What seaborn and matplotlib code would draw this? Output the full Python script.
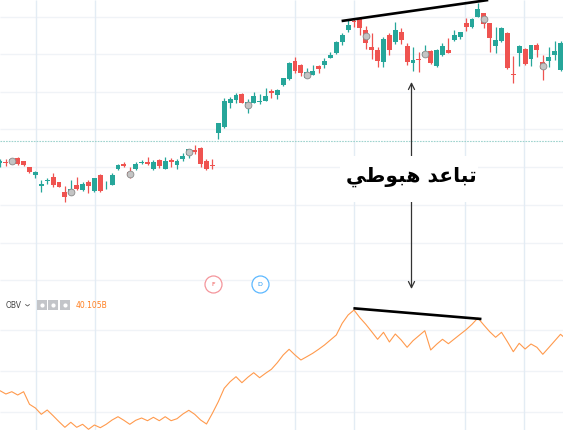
# Imports
import numpy as np
import pandas as pd
import seaborn as sns
import matplotlib.pyplot as plt
from matplotlib.patches import Rectangle

# Candles (values are pixel rows, so smaller = higher price).
candle_up = [1,0,1,0,0,0,1,1,1,0,0,0,1,0,1,0,1,0,1,1,
             1,0,0,1,1,0,1,0,1,0,1,1,1,0,0,0,0,1,1,1,
             1,0,1,1,1,1,0,1,1,1,0,0,1,1,0,1,1,1,1,1,
             0,0,0,0,0,1,0,1,0,0,1,0,1,0,1,1,0,1,1,0,
             1,1,0,0,1,1,0,0,1,0,1,0,0,1,1,1]
body_top = [161,162,159.3,158,161.3,166.7,171.7,183.7,180,177.3,182,191.7,189.3,185,184.3,181.7,178,175,183.7,174.7,
            165,164,172,163.7,162,161.7,161.7,160.3,160.7,160.3,160.7,156,149.3,149.7,148.3,160.7,165.3,123.3,101.3,99.3,
            95,93.7,102.3,96,100.7,96,91,90.3,78.3,63,61,65.3,72.3,71,66,61,54.7,41.7,34.7,25,
            21.3,18.3,30,47.3,50,39.3,35,30,32,45.7,60,59.3,51.7,51.3,50.3,45.7,50,35.3,32,23.3,
            19,9,13.3,23,39.7,28,33,74,45.7,49,45.3,45,62.3,57,51.3,43.3]
body_bot = [163.3,162.7,162.7,164.3,164.7,172,175.3,186,181.3,184.7,186.7,197,194,189.3,190,186,191,191,184.3,184.7,
            169.3,166,176.3,169.3,163.3,164,169,166,168.7,161.7,165,158.7,155.3,151.7,164,168.7,166,132.7,127.3,103.3,
            100,102.7,107.3,102.7,102,100.7,93,95,85.3,79.3,71.3,72.7,77.7,74.7,69,65.3,57.7,53.3,42,30.3,
            22,28,42.7,50,60.7,62.3,50,42,40,62.3,62.7,60.3,56,63.3,66,55,53,40,37,26.7,
            27,17,24,38,46.3,40.7,68,75.3,52.7,64,58.7,50,69.3,61.3,54.7,70]
wick_top = [159.3,159,159.3,156.7,161.3,166.7,171,180,177.7,172.7,182,185.7,179.7,177,181.7,180,178,174,180.7,173.3,
            164.3,162,166.7,162,159.7,157.3,160,159.3,157.3,157.7,159.3,152.7,149.3,144.7,147.3,159,159,122.7,98.3,96.7,
            93.3,92.7,99.3,91.7,94.3,87.7,89,89.3,77.7,62.3,57.3,64,67.7,65,65.3,58.3,52.3,41,32.7,20,
            19.3,16.7,26,33.3,47.3,37.3,33.3,22,27.7,43.3,46.7,51.7,45,50,49.3,43.3,38,30,32,18.3,
            18.3,2.7,12.7,22.7,26.7,26.7,32.3,56,45,48.3,44.7,42.7,55,46.7,40.7,40.7]
wick_bot = [167.3,166,163,165,166,172.7,178,191.7,183.7,186.7,187,201.7,195,190,190.7,192.7,191.7,192,188.7,185.3,
            170,167.3,177.7,170,164,164.7,170,167.7,169,166.7,169,160.7,158.3,154,166.7,170,169.3,139.3,128,108.3,
            103.3,103.3,112.7,103.3,104,101.3,97.7,98.7,86,80,72.7,76,78,75.3,73.3,67.7,58.3,54.3,45,31.7,
            27.3,35,49.3,58.7,67.3,66.7,55,44,44,65,70.7,71.7,56.7,64,66.7,55.7,53.3,40.7,38.7,30.7,
            28,17.3,28.3,52,53.3,41.7,68.7,83.3,66,64.7,66,56.7,80,66.7,60,71]

# On balance volume line, same rows.
obv_row = [390.7,394,391.7,395,391.7,404.3,408,414.3,410,415.7,421.7,427.3,422.3,427.3,424.3,429.3,425,427.7,424.3,420,
           416.7,420.3,424.3,420.3,418,420.7,417.3,420.7,416.7,420.7,418.7,414,410.3,414.3,420,424,413.3,401.7,388.3,381.7,
           376.7,382.7,377.3,372.7,377.7,373.3,369.3,362.7,355,349.3,355,360,356.7,353.3,349.3,345,340,335,323.3,315,
           310,317.7,324.3,331.7,339.3,332.3,342,334,340,347.3,340.7,335.7,330.7,350,344.3,339.3,343.7,339,334.3,329.7,
           324.3,318,325,331.7,337.3,332.3,341.7,351.7,343.3,349,344,347.3,354.3,347.7,341,334.3,339.3]

# Every tenth candle carries a grey marker.
marked = [2,12,22,32,42,52,62,72,82,92]

# Trend lines (candle index, row).
price_trend_x = [57.9, 82.75]
price_trend_y = [21, 0]
obv_trend_x = [59.9, 81.6]
obv_trend_y = [308.3, 319]

# Grid.
grid_cols = [36, 95, 295, 354.3, 465, 524.3]
grid_rows = [16.7, 54.3, 91.7, 129.3, 167.3, 205, 242.7, 280, 329.5, 371, 411.7]
dotted_row = 141

label_text = "\ufef2\ufec3\ufeee\ufe92\ufeeb \ufeaa\ufecb\ufe8e\ufe92\ufe97"  # shaped, left to right
obv_name = "OBV"
obv_value = "40.105B"

GREEN = '#26a69a'
RED = '#ef5350'
ORANGE = '#ff9a4d'
STEP = 5.9  # pixels between candles

df = pd.DataFrame({'i': np.arange(len(obv_row)), 'obv': obv_row})
colors = [GREEN if u else RED for u in candle_up]
idx = np.arange(len(body_top))
body_top = np.array(body_top)
body_bot = np.array(body_bot)

sns.set_style('white')
fig = plt.figure(figsize=(5.63, 4.30), dpi=100)
ax = fig.add_axes([0, 0, 1, 1])
ax.set_xlim(0, 563 / STEP)
ax.set_ylim(430, 0)
ax.set_xticks([])
ax.set_yticks([])
for s in ax.spines.values():
    s.set_visible(False)

# Grid lines.
ax.hlines(grid_rows, 0, 563 / STEP, color='#f0f3f7', lw=1.0, zorder=1)
ax.vlines(np.array(grid_cols) / STEP, 0, 430, color='#e3ecf4', lw=1.0, zorder=1)
ax.axhline(dotted_row, color='#9fd3ce', lw=0.8, ls=(0, (1.5, 1)), zorder=1)

# Candles.
ax.vlines(idx, wick_top, wick_bot, colors=colors, lw=0.9, zorder=2)
ax.bar(idx, body_bot - body_top, bottom=body_top, width=0.82, color=colors, linewidth=0, zorder=3)

# Grey markers.
marks = pd.DataFrame({'i': marked, 'row': (body_top[marked] + body_bot[marked]) / 2})
sns.scatterplot(data=marks, x='i', y='row', ax=ax, marker='o', s=24, color='#c4c4c4',
                edgecolor='#8a8a8a', linewidth=0.6, zorder=4, legend=False)

# OBV line.
sns.lineplot(data=df, x='i', y='obv', ax=ax, color=ORANGE, lw=0.8, zorder=3, legend=False)
ax.set_xlabel('')
ax.set_ylabel('')

# Hand drawn trend lines.
ax.plot(price_trend_x, price_trend_y, color='black', lw=1.9, zorder=6, solid_capstyle='butt')
ax.plot(obv_trend_x, obv_trend_y, color='black', lw=1.9, zorder=6, solid_capstyle='butt')

# Arrow with the label on top.
ax.annotate('', xy=(411.5 / STEP, 82), xytext=(411.5 / STEP, 289),
            arrowprops=dict(arrowstyle='<->', color='#333333', lw=0.9, mutation_scale=11, shrinkA=0, shrinkB=0),
            zorder=6)
ax.add_patch(Rectangle((340 / STEP, 156), 138 / STEP, 46, facecolor='white', edgecolor='none', zorder=7))
ax.text(411 / STEP, 177, label_text, fontsize=14.5, fontweight='bold', color='black', family='DejaVu Sans',
        ha='center', va='center', zorder=8)

# Pane header.
ax.text(6 / STEP, 305, obv_name, fontsize=5.5, color='#444444', va='center', family='DejaVu Sans')
ax.plot([25.5 / STEP, 27.5 / STEP, 29.5 / STEP], [304.5, 306, 304.5], color='#555555', lw=0.6, zorder=6)
for px in [42, 53.5, 65]:
    ax.scatter(px / STEP, 305, marker='s', s=55, color='#c3c5c9', linewidth=0, zorder=6)
    ax.scatter(px / STEP, 305, marker='o', s=9, color='white', linewidth=0, zorder=7)
ax.text(76 / STEP, 305, obv_value, fontsize=5.5, color='#ff7f1f', va='center', family='DejaVu Sans')

# Event badges.
ax.scatter(213 / STEP, 284, s=150, facecolor='white', edgecolor='#f4959b', linewidth=0.9, zorder=6)
ax.text(213 / STEP, 284, 'F', fontsize=4.5, color='#ef5350', ha='center', va='center', zorder=7)
ax.scatter(260 / STEP, 284, s=150, facecolor='white', edgecolor='#5cb8ff', linewidth=0.9, zorder=6)
ax.text(260 / STEP, 284, 'D', fontsize=4.5, color='#2196f3', ha='center', va='center', zorder=7)

plt.savefig('out.png', dpi=100)
